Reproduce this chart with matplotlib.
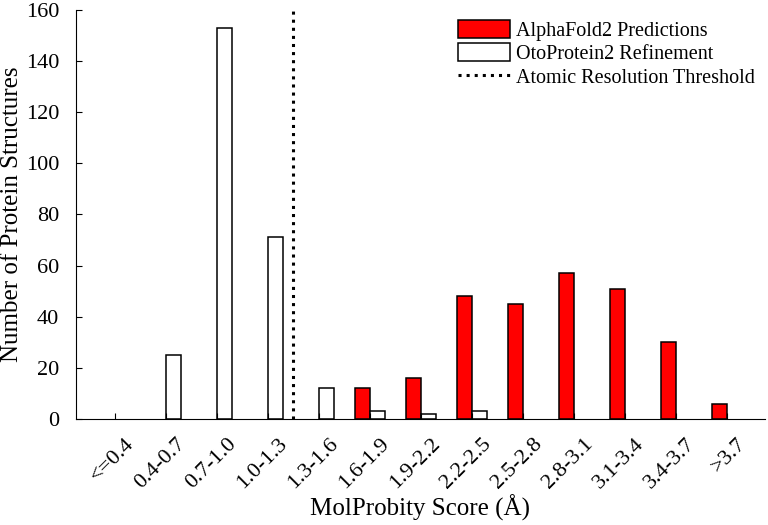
import matplotlib.pyplot as plt
import matplotlib.transforms as mtransforms
import numpy as np

plt.rcParams['font.family'] = ['Liberation Serif', 'DejaVu Serif']

categories = ['<=0.4', '0.4-0.7', '0.7-1.0', '1.0-1.3', '1.3-1.6', '1.6-1.9', '1.9-2.2',
              '2.2-2.5', '2.5-2.8', '2.8-3.1', '3.1-3.4', '3.4-3.7', '>3.7']
alphafold = np.array([0, 0, 0, 0, 0, 12, 16, 48, 45, 57, 51, 30, 6])
otoprotein = np.array([0, 25, 153, 71, 12, 3, 2, 3, 0, 0, 0, 0, 0])
threshold_pos = 3.5  # between 1.0-1.3 and 1.3-1.6

x = np.arange(len(categories))
w = 0.29

fig = plt.figure(figsize=(7.68, 5.25), dpi=100)
ax = fig.add_axes([0.099, 0.202, 0.897, 0.779])

# zero counts are not drawn at all
m1 = alphafold > 0
m2 = otoprotein > 0
ax.bar(x[m1] - w / 2, alphafold[m1], w, color='red', edgecolor='black', linewidth=1.1,
       label='AlphaFold2 Predictions')
ax.bar(x[m2] + w / 2, otoprotein[m2], w, color='white', edgecolor='black', linewidth=1.1,
       label='OtoProtein2 Refinement')
ax.axvline(threshold_pos, color='black', linestyle=':', linewidth=2.2,
           label='Atomic Resolution Threshold')

ax.set_xlim(-0.76, 12.75)
ax.set_ylim(0, 160)
ax.set_yticks(np.arange(0, 161, 20))
ax.set_xticks(x)
ax.set_xticklabels(categories, rotation=45, ha='right', rotation_mode='anchor', fontsize=16)
ax.tick_params(axis='both', direction='in', length=4, labelsize=16)
ax.tick_params(axis='x', pad=11)
ax.tick_params(axis='y', pad=12)
off = mtransforms.ScaledTranslation(0.1, 0, fig.dpi_scale_trans)
for lab in ax.get_xticklabels():
    lab.set_transform(lab.get_transform() + off)

ax.spines['top'].set_visible(False)
ax.spines['right'].set_visible(False)

ax.set_xlabel('MolProbity Score (Å)', fontsize=18, labelpad=2)
ax.set_ylabel('Number of Protein Structures', fontsize=18, labelpad=2)

h, l = ax.get_legend_handles_labels()
order = [1, 2, 0]
ax.legend([h[i] for i in order], [l[i] for i in order], loc='upper right',
          bbox_to_anchor=(1.0, 1.0), frameon=False, fontsize=14.5,
          handlelength=2.6, handleheight=1.0, handletextpad=0.3, labelspacing=0.12,
          borderaxespad=0.1)

fig.savefig('out.png', dpi=100)
